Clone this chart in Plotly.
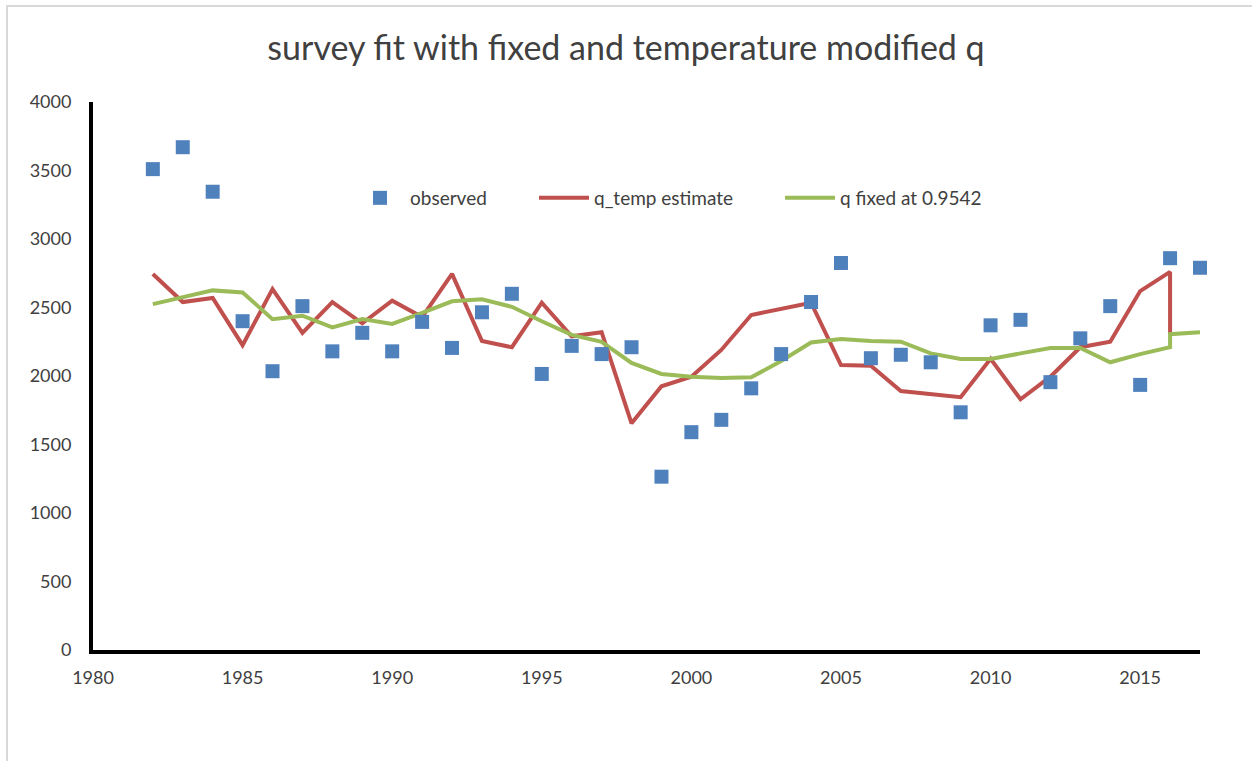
import plotly.graph_objects as go

# ---- data ----
obs_years = list(range(1982, 2018))
observed = [3510, 3670, 3345, 2400, 2035, 2510, 2180, 2315, 2180, 2395,
            2205, 2465, 2600, 2015, 2220, 2160, 2210, 1265, 1590, 1680,
            1910, 2160, 2540, 2825, 2130, 2155, 2100, 1735, 2370, 2410,
            1955, 2275, 2510, 1935, 2860, 2790]

qtemp_years = list(range(1982, 2017)) + [2016]
q_temp = [2745, 2540, 2570, 2225, 2635, 2315, 2540, 2385, 2550, 2430,
          2745, 2255, 2210, 2535, 2290, 2320, 1655, 1925, 1995, 2190,
          2445, 2490, 2535, 2080, 2075, 1890, 1865, 1845, 2125, 1830,
          1995, 2210, 2250, 2620, 2760, 2305]

qfix_years = list(range(1982, 2017)) + [2016, 2017]
q_fixed = [2525, 2575, 2625, 2610, 2415, 2440, 2355, 2415, 2380, 2460,
           2545, 2560, 2505, 2400, 2300, 2250, 2095, 2015, 1995, 1985,
           1990, 2110, 2245, 2270, 2255, 2250, 2165, 2125, 2125, 2165,
           2205, 2205, 2100, 2160, 2210, 2305, 2320]

x_ticks = [1980, 1985, 1990, 1995, 2000, 2005, 2010, 2015]
y_ticks = [0, 500, 1000, 1500, 2000, 2500, 3000, 3500, 4000]

FONT = "Lato"
TXT = "#404040"

fig = go.Figure()
fig.add_trace(go.Scatter(x=qtemp_years, y=q_temp, mode="lines", name="q_temp estimate",
                         line=dict(color="#c0504d", width=4), legend="legend2",
                         showlegend=True))
fig.add_trace(go.Scatter(x=qfix_years, y=q_fixed, mode="lines", name="q fixed at 0.9542",
                         line=dict(color="#9bbb59", width=4), legend="legend3",
                         showlegend=True, cliponaxis=False))
fig.add_trace(go.Scatter(x=obs_years, y=observed, mode="markers", name="observed",
                         marker=dict(symbol="square", size=14, color="#4f81bd"),
                         legend="legend", showlegend=True, cliponaxis=False))

L = 93; R = 1200; T = 102; B = 650
W = 1252; H = 761
def px_x(p):
    return (p - L) / (R - L)
def px_y(p):
    return (B - p) / (B - T)

legend_common = dict(orientation="h", yanchor="middle", xanchor="left",
                      itemwidth=50, bgcolor="rgba(0,0,0,0)",
                      font=dict(family=FONT, size=19, color=TXT))

fig.update_layout(
    width=W, height=H,
    showlegend=True,
    margin=dict(l=L, r=W - R, t=T, b=H - B),
    paper_bgcolor="white", plot_bgcolor="white",
    title=dict(text="survey fit with fixed and temperature modified q",
               x=0.5, xref="container", y=1 - 48 / H, yanchor="middle",
               font=dict(family=FONT, size=34, color=TXT)),
    font=dict(family=FONT, color=TXT),
    legend=dict(x=px_x(350), y=px_y(198), **legend_common),
    legend2=dict(x=px_x(534), y=px_y(198), **legend_common),
    legend3=dict(x=px_x(780), y=px_y(198), **legend_common),
    xaxis=dict(range=[1980, 2017], tickvals=x_ticks, showgrid=False, zeroline=False,
               showline=True, linecolor="black", linewidth=4, ticks="",
               ticklabelstandoff=8,
               tickfont=dict(family=FONT, size=18, color=TXT)),
    yaxis=dict(range=[0, 4000], tickvals=y_ticks, showgrid=False, zeroline=False,
               showline=True, linecolor="black", linewidth=4, ticks="",
               ticklabelstandoff=14,
               tickfont=dict(family=FONT, size=18, color=TXT)),
    shapes=[dict(type="rect", xref="paper", yref="paper",
                 x0=px_x(7), x1=px_x(1265), y0=px_y(775), y1=px_y(6),
                 line=dict(color="#d9d9d9", width=2), fillcolor="rgba(0,0,0,0)",
                 layer="below")],
)

fig.write_html("out.html", config={"displayModeBar": False},
               post_script="document.body.style.margin='0';")
